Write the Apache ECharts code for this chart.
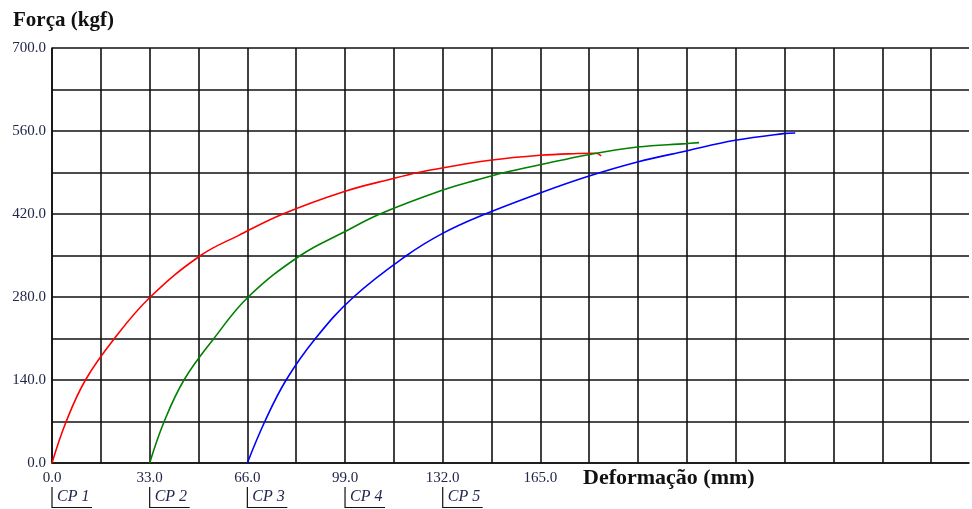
<!DOCTYPE html>
<html>
<head>
<meta charset="utf-8">
<script src="https://cdn.jsdelivr.net/npm/echarts@6/dist/echarts.min.js"></script>
<style>
  html, body { margin: 0; padding: 0; background: #fff; }
  #chart { width: 972px; height: 509px; }
</style>
</head>
<body>
<div id="chart"></div>
<script>
// Specimen names and the deformation at which each curve starts (mm)
const cpNames = ['CP 1', 'CP 2', 'CP 3', 'CP 4', 'CP 5'];
const cpStart = [0, 33, 66, 99, 132];
const cpColors = ['#ff0000', '#008000', '#0000ff'];

// Force vs deformation curves: [deformação (mm), força (kgf)]
const cp1 = [[0,0],[4.8,70],[11.3,140],[21.1,210],[33.2,280],[50.2,350],[63.1,384],[78,420],[98.8,458],
  [115.4,480],[123.7,490],[131.8,497.6],[148,510.6],[164.9,519],[177.6,522],[183.8,522.5],[185.5,518]];
const cp2 = [[33,0],[37.9,70],[44.6,140],[54.7,210],[66.3,280],[83.9,350],[98.7,389.6],[110.8,420],
  [131.8,460],[143.9,478],[152.9,490],[164.9,503],[181.2,520],[197.8,533],[214.2,538.7],[218.6,540.4]];
const cp3 = [[66,0],[71.9,70],[79.1,140],[89,210],[101.9,280],[119.8,350],[131.8,386.9],
  [143.9,415],[164.9,455.4],[181.2,483.6],[197.8,507.7],[214.2,526.3],[230.8,544.3],[247.1,555.6],[251.1,556.6]];
const curves = [cp1, cp2, cp3];

// Axis ranges and tick labels (the deformation axis is cut off at the right edge)
const xMax = 309.8, xStep = 16.5, xLabelStep = 33, xLabelLast = 165;
const yMax = 700, yStep = 70, yLabelStep = 140;

const serif = '"Liberation Serif", "Times New Roman", serif';
const labelColor = '#22264a';

const chart = echarts.init(document.getElementById('chart'), null, { renderer: 'canvas' });

const isMultiple = (v, s) => Math.abs(v / s - Math.round(v / s)) < 1e-6;

chart.setOption({
  animation: false,
  backgroundColor: '#ffffff',
  title: {
    text: 'Força (kgf)',
    left: 8, top: 5,
    textStyle: { fontFamily: serif, fontWeight: 'bold', fontSize: 21, color: '#111' }
  },
  grid: { left: 52, top: 48, height: 415, right: 0, containLabel: false },
  xAxis: {
    type: 'value', min: 0, max: xMax, interval: xStep,
    axisLine: { show: true, lineStyle: { color: '#111', width: 1.6 } },
    axisTick: { show: false },
    splitLine: { show: true, showMaxLine: false, lineStyle: { color: '#111', width: 1.6 } },
    axisLabel: {
      margin: 8, fontFamily: serif, fontSize: 15, color: labelColor,
      formatter: v => (isMultiple(v, xLabelStep) && v <= xLabelLast + 1e-6) ? v.toFixed(1) : ''
    }
  },
  yAxis: {
    type: 'value', min: 0, max: yMax, interval: yStep,
    axisLine: { show: true, lineStyle: { color: '#111', width: 1.6 } },
    axisTick: { show: false },
    splitLine: { show: true, lineStyle: { color: '#111', width: 1.6 } },
    axisLabel: {
      margin: 6, fontFamily: serif, fontSize: 15, color: labelColor,
      formatter: v => isMultiple(v, yLabelStep) ? v.toFixed(1) : ''
    }
  },
  series: curves.map((d, i) => ({
    name: cpNames[i],
    type: 'line',
    data: d,
    showSymbol: false,
    smooth: 0.4,
    lineStyle: { color: cpColors[i], width: 1.6 },
    z: 5
  }))
});

// Axis name and the specimen markers under the deformation axis
const graphics = [{
  type: 'text', left: 583, top: 467,
  style: { text: 'Deformação (mm)', font: 'bold 22px ' + serif, fill: '#111' }
}];
cpStart.forEach((x0, i) => {
  const px = chart.convertToPixel({ xAxisIndex: 0 }, x0);
  graphics.push({
    type: 'polyline', silent: true,
    shape: { points: [[px, 487], [px, 507.5], [px + 40, 507.5]] },
    style: { stroke: '#111', lineWidth: 1.2, fill: null }
  });
  graphics.push({
    type: 'text', silent: true, x: px + 5, y: 497,
    style: { text: cpNames[i], font: 'italic 16px ' + serif, fill: labelColor, verticalAlign: 'middle' }
  });
});
chart.setOption({ graphic: graphics });
</script>
</body>
</html>
